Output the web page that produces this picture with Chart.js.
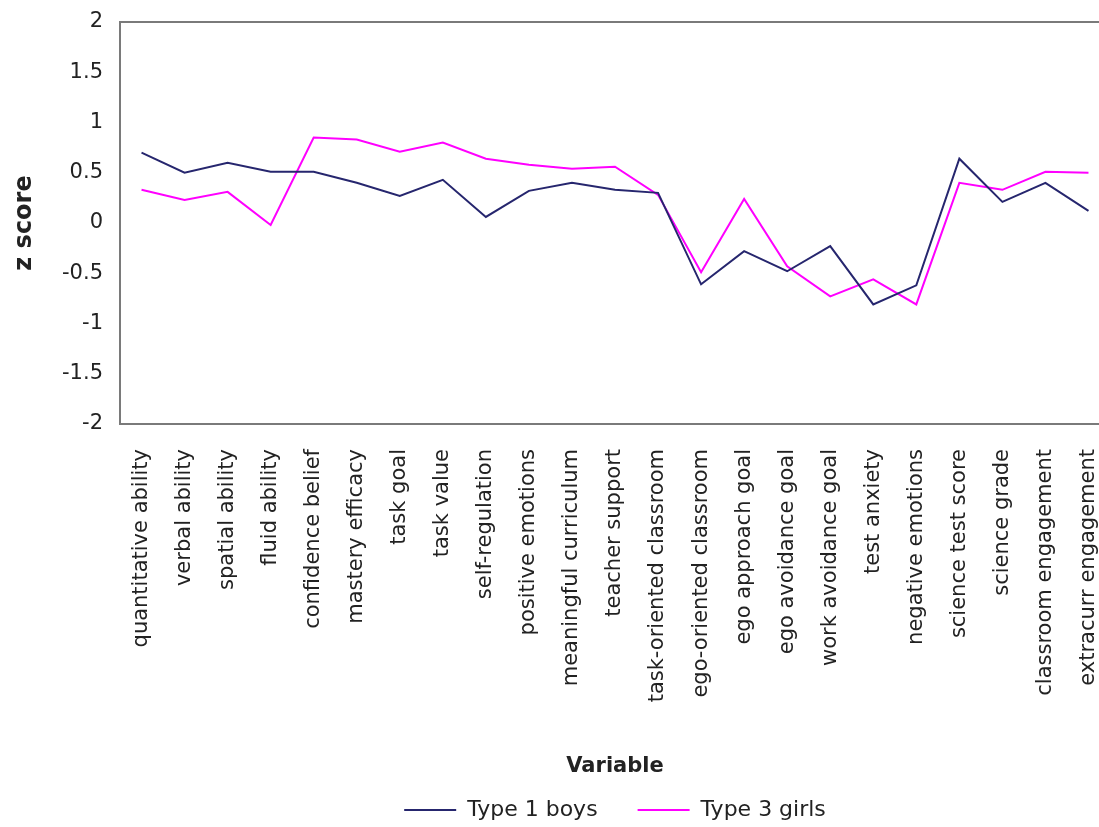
<!DOCTYPE html>
<html>
<head>
<meta charset="utf-8">
<script src="https://cdn.jsdelivr.net/npm/chart.js@4/dist/chart.umd.min.js"></script>
<style>
  html, body { margin: 0; padding: 0; overflow: hidden; background: #fff; }
  canvas { display: block; }
</style>
</head>
<body>
<canvas id="c" width="1230" height="827"></canvas>
<script>
const categories = [
  'quantitative ability', 'verbal ability', 'spatial ability', 'fluid ability',
  'confidence belief', 'mastery efficacy', 'task goal', 'task value',
  'self-regulation', 'positive emotions', 'meaningful curriculum', 'teacher support',
  'task-oriented classroom', 'ego-oriented classroom', 'ego approach goal',
  'ego avoidance goal', 'work avoidance goal', 'test anxiety', 'negative emotions',
  'science test score', 'science grade', 'classroom engagement', 'extracurr engagement'
];
const type1Boys = [
  0.70, 0.50, 0.60, 0.51, 0.51, 0.40, 0.27, 0.43, 0.06, 0.32, 0.40, 0.33,
  0.30, -0.61, -0.28, -0.48, -0.23, -0.81, -0.62, 0.64, 0.21, 0.40, 0.12
];
const type3Girls = [
  0.33, 0.23, 0.31, -0.02, 0.85, 0.83, 0.71, 0.80, 0.64, 0.58, 0.54, 0.56,
  0.28, -0.49, 0.24, -0.43, -0.73, -0.56, -0.81, 0.40, 0.33, 0.51, 0.50
];
const seriesNames = ['Type 1 boys', 'Type 3 girls'];
const yTickLabels = ['-2', '-1.5', '-1', '-0.5', '0', '0.5', '1', '1.5', '2'];
const xTitle = 'Variable';
const yTitle = 'z score';

const FONT = "'DejaVu Sans', sans-serif";

const framePlugin = {
  id: 'frame',
  afterDatasetsDraw(chart) {
    const a = chart.chartArea, ctx = chart.ctx;
    ctx.save();
    ctx.strokeStyle = '#7a7a7a';
    ctx.lineWidth = 2;
    ctx.strokeRect(a.left, a.top, a.right - a.left, a.bottom - a.top);
    ctx.restore();
  }
};

new Chart(document.getElementById('c'), {
  type: 'line',
  data: {
    labels: categories,
    datasets: [
      { label: seriesNames[0], data: type1Boys, borderColor: '#26266e', backgroundColor: '#26266e',
        borderWidth: 2, pointRadius: 0, tension: 0, fill: false },
      { label: seriesNames[1], data: type3Girls, borderColor: '#ff00ff', backgroundColor: '#ff00ff',
        borderWidth: 2, pointRadius: 0, tension: 0, fill: false }
    ]
  },
  options: {
    responsive: false,
    animation: false,
    layout: { padding: { top: 22, bottom: -4, left: 0, right: 0 } },
    plugins: {
      legend: {
        position: 'bottom',
        labels: {
          usePointStyle: true,
          pointStyle: 'line',
          pointStyleWidth: 52,
          padding: 40,
          color: '#222',
          font: { family: FONT, size: 22 }
        }
      },
      tooltip: { enabled: false }
    },
    scales: {
      x: {
        type: 'category',
        offset: true,
        grid: { display: false, drawTicks: false },
        border: { display: false },
        ticks: {
          autoSkip: false, maxRotation: 90, minRotation: 90, padding: 25,
          color: '#222', font: { family: FONT, size: 21 }
        },
        title: {
          display: true, text: xTitle, color: '#222',
          font: { family: FONT, size: 21, weight: 'bold' },
          padding: { top: 0, bottom: -20 }
        },
        afterFit(scale) { scale.height = 335; }
      },
      y: {
        min: -2, max: 2,
        grid: { display: false, drawTicks: false },
        border: { display: false },
        ticks: {
          stepSize: 0.5, padding: 17, color: '#222',
          font: { family: FONT, size: 21 },
          callback: (v, i) => yTickLabels[i]
        },
        title: {
          display: true, text: yTitle, color: '#222',
          font: { family: FONT, size: 24, weight: 'bold' },
          padding: { top: 10, bottom: 0 }
        },
        afterFit(scale) { scale.width = 120; scale.paddingTop = 0; scale.paddingBottom = 0; }
      },
      y2: {
        position: 'right',
        display: true,
        grid: { display: false, drawTicks: false },
        border: { display: false },
        ticks: { display: false },
        afterFit(scale) { scale.width = 120; scale.paddingTop = 0; scale.paddingBottom = 0; }
      }
    }
  },
  plugins: [framePlugin]
});
</script>
</body>
</html>
